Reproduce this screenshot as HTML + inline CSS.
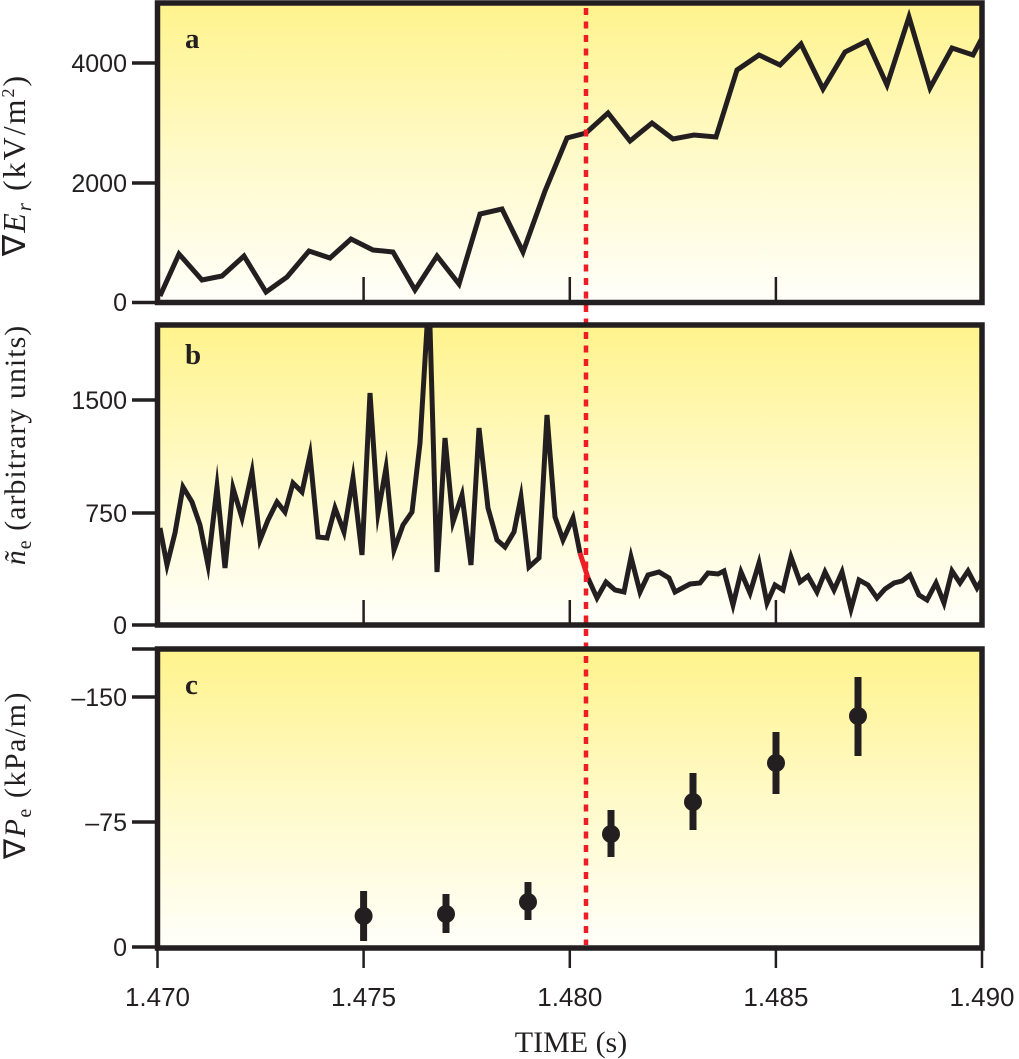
<!DOCTYPE html>
<html><head><meta charset="utf-8"><style>
html,body{margin:0;padding:0;background:#fff;}
svg{display:block;}
.t{font-family:"Liberation Sans",sans-serif;font-size:25px;fill:#231f20;}
.s{font-family:"Liberation Serif",serif;fill:#231f20;}
.yl{font-size:30px;letter-spacing:1.5px;}
</style></head><body>
<svg width="1019" height="1059" viewBox="0 0 1019 1059" xmlns="http://www.w3.org/2000/svg">
<defs>
<linearGradient id="g" x1="0" y1="0" x2="0" y2="1">
<stop offset="0" stop-color="#fff38c"/><stop offset="0.5" stop-color="#fffac8"/><stop offset="1" stop-color="#fffffa"/>
</linearGradient>
</defs>
<rect x="157.5" y="3" width="825" height="299.5" fill="url(#g)"/>
<rect x="157.5" y="325" width="825" height="300" fill="url(#g)"/>
<rect x="157.5" y="649" width="825" height="299" fill="url(#g)"/>

<g stroke="#231f20" stroke-width="2.5">
<line x1="363.6" y1="277" x2="363.6" y2="302"/><line x1="569.8" y1="277" x2="569.8" y2="302"/><line x1="775.9" y1="277" x2="775.9" y2="302"/>
<line x1="363.6" y1="600" x2="363.6" y2="625"/><line x1="569.8" y1="600" x2="569.8" y2="625"/><line x1="775.9" y1="600" x2="775.9" y2="625"/>
<line x1="157.5" y1="948" x2="157.5" y2="968"/><line x1="363.6" y1="948" x2="363.6" y2="968"/><line x1="569.8" y1="948" x2="569.8" y2="968"/><line x1="775.9" y1="948" x2="775.9" y2="968"/><line x1="982" y1="948" x2="982" y2="968"/>
</g>
<g stroke="#231f20" stroke-width="3.5">
<line x1="132" y1="302.5" x2="157" y2="302.5"/><line x1="132" y1="183" x2="157" y2="183"/><line x1="132" y1="63" x2="157" y2="63"/>
<line x1="132" y1="625" x2="157" y2="625"/><line x1="132" y1="513" x2="157" y2="513"/><line x1="132" y1="400" x2="157" y2="400"/>
<line x1="132" y1="649" x2="157" y2="649"/><line x1="132" y1="697" x2="157" y2="697"/><line x1="132" y1="822" x2="157" y2="822"/><line x1="132" y1="947" x2="157" y2="947"/>
</g>

<g class="t" text-anchor="end">
<text x="127" y="311">0</text><text x="127" y="192">2000</text><text x="127" y="72">4000</text>
<text x="127" y="634">0</text><text x="127" y="522">750</text><text x="127" y="409">1500</text>
<text x="127" y="706">–150</text><text x="127" y="831">–75</text><text x="127" y="956">0</text>
</g>
<g class="t" text-anchor="middle" style="font-size:26px">
<text x="157.5" y="1006">1.470</text><text x="363.6" y="1006">1.475</text><text x="569.8" y="1006">1.480</text><text x="775.9" y="1006">1.485</text><text x="982" y="1006">1.490</text>
</g>
<text class="s" x="571" y="1052" text-anchor="middle" font-size="30">TIME (s)</text>

<text class="s yl" transform="translate(25,165) rotate(-90)" text-anchor="middle" style="font-size:32px;letter-spacing:2px">∇<tspan font-style="italic">E</tspan><tspan font-style="italic" font-size="21" dy="6">r</tspan><tspan dy="-6"> (kV/m</tspan><tspan font-size="18" dy="-11">2</tspan><tspan dy="11">)</tspan></text>
<text class="s yl" transform="translate(25,445) rotate(-90)" text-anchor="middle" style="letter-spacing:1px"><tspan font-style="italic">ñ</tspan><tspan font-size="20" dy="6">e</tspan><tspan dy="-6"> (arbitrary units)</tspan></text>
<text class="s yl" transform="translate(25,775) rotate(-90)" text-anchor="middle">∇<tspan font-style="italic">P</tspan><tspan font-size="20" dy="6">e</tspan><tspan dy="-6"> (kPa/m)</tspan></text>

<g class="s" font-weight="bold" font-size="29">
<text x="185" y="48">a</text><text x="185" y="364">b</text><text x="185" y="694">c</text>
</g>

<g fill="none" stroke="#231f20" stroke-width="5" stroke-linejoin="miter" stroke-miterlimit="10">
<polyline points="160,296 179,254 202,280 222,276 244,256 266,292 287,277 309,251 330,258 351,239 373,250 393,252 415,290 437,256 459,284 480,214 502,209 523,252 545,191 567,138 586,133 608,113 630,141 652,123 673,139 694,135 716,137 737,70 759,55 780,65 801,44 823,89 845,52 867,41 887,85 909,17 930,88 952,48 973,55 982,38"/>
<polyline points="160,528 167,565 175,533 183,487 192,502 200,525 208,565 217,487 225,568 233,488 242,518 252,472 260,540 268,520 277,502 285,512 293,483 302,492 310,455 318,537 327,538 335,508 344,532 353,478 362,555 370,393 378,513 386,468 394,550 403,525 412,512 420,443 427,327 430,327 437,572 445,438 453,522 462,495 471,565 479,428 488,508 497,540 505,547 514,532 521,497 529,567 539,558 547,415 555,517 563,540 573,518 580,553"/>
<polyline points="588,578 597,598 606,582 615,590 624,592 631,557 640,592 648,575 659,572 669,578 675,592 690,584 700,583 708,573 718,574 724,571 733,605 741,572 750,593 759,563 767,603 775,585 783,590 791,557 800,582 808,576 817,592 825,572 834,590 842,572 851,609 859,580 868,585 877,598 885,589 894,583 902,581 910,575 919,595 927,600 936,583 944,603 952,571 960,583 968,571 977,588 982,580"/>
</g>
<line x1="580" y1="553" x2="588" y2="578" stroke="#ee1c25" stroke-width="5"/>

<g stroke="#231f20" stroke-width="7" fill="#231f20">
<line x1="363.6" y1="891" x2="363.6" y2="941"/><circle cx="363.6" cy="916" r="9" stroke="none"/>
<line x1="446" y1="894" x2="446" y2="933"/><circle cx="446" cy="914" r="9" stroke="none"/>
<line x1="528" y1="882" x2="528" y2="920"/><circle cx="528" cy="902" r="9" stroke="none"/>
<line x1="611" y1="810" x2="611" y2="857"/><circle cx="611" cy="834" r="9" stroke="none"/>
<line x1="693" y1="773" x2="693" y2="830"/><circle cx="693" cy="802" r="9" stroke="none"/>
<line x1="776" y1="732" x2="776" y2="794"/><circle cx="776" cy="763" r="9" stroke="none"/>
<line x1="858" y1="677" x2="858" y2="756"/><circle cx="858" cy="716" r="9" stroke="none"/>
</g>

<line x1="586" y1="8" x2="586" y2="945" stroke="#ee1c25" stroke-width="4.5" stroke-dasharray="7,6.5"/>

<g fill="none" stroke="#231f20" stroke-width="5.5">
<rect x="157.5" y="3" width="824.5" height="299.5"/>
<rect x="157.5" y="325" width="824.5" height="300"/>
<rect x="157.5" y="649" width="824.5" height="299"/>
</g>
</svg>
</body></html>
